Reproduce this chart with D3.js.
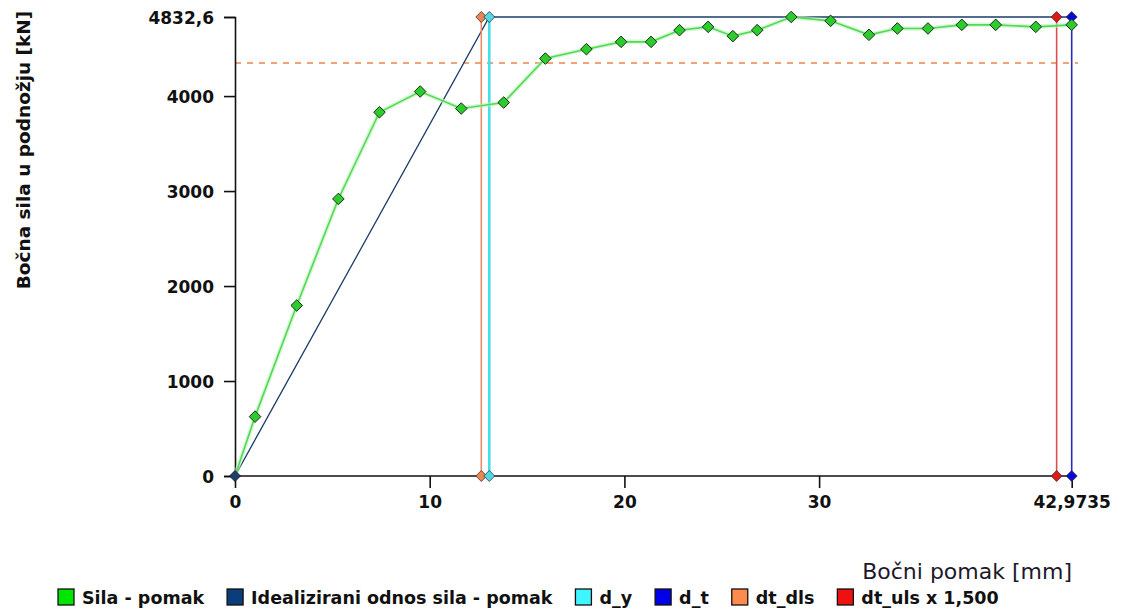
<!DOCTYPE html>
<html><head><meta charset="utf-8">
<script src="https://cdn.jsdelivr.net/npm/d3@7"></script>
<style>body{margin:0;background:#fff;}svg{display:block;}</style>
</head><body>
<svg id="c" width="1121" height="610"></svg>
<script>
// Data
const dispX = [0, 1.03, 3.17, 5.31, 7.42, 9.51, 11.62, 13.80, 15.94, 18.05, 19.83, 21.37, 22.83, 24.30, 25.57, 26.82, 28.57, 30.59, 32.56, 34.02, 35.59, 37.33, 39.07, 41.13, 42.97];
const forceY = [0, 625, 1795, 2917, 3830, 4048, 3869, 3932, 4395, 4494, 4571, 4571, 4694, 4729, 4631, 4694, 4832.6, 4792, 4645, 4712, 4712, 4750, 4750, 4729, 4750];
const idealX = [0, 13.06, 42.9735];
const idealY = [0, 4832.6, 4832.6];
const markerNames = ["dt_dls", "d_y", "dt_uls x 1,500", "d_t"];
const markerX = [12.65, 13.06, 42.2, 42.9735];
const dashedLevel = 4349;
const xTicks = [0, 10, 20, 30, 42.9735];
const yTicks = [0, 1000, 2000, 3000, 4000, 4832.6];
const legendNames = ["Sila - pomak", "Idealizirani odnos sila - pomak", "d_y", "d_t", "dt_dls", "dt_uls x 1,500"];
const xTitle = "Bočni pomak [mm]";
const yTitle = "Bočna sila u podnožju [kN]";

const col = {
  green: "#52da52", greenPt: "#2bcc2b", navy: "#1d3d6a",
  cyan: "#45dfec", blue: "#2a2ac0", orange: "#e98f68", red: "#d85050",
  dashed: "#e8874c"
};
const markerLine = [col.orange, col.cyan, col.red, col.blue];
const markerFill = ["#ec8552", "#4fd8e8", "#e01818", "#0a0ad8"];
const markerW = [1.6, 2.6, 1.6, 1.6];
const legendFill = ["#00e600", "#0b3d7a", "#3ff5ff", "#0000e6", "#ff8a4d", "#ee1111"];

const svg = d3.select("#c");
const x = d3.scaleLinear().domain([0, 42.9735]).range([235, 1071.7]);
const y = d3.scaleLinear().domain([0, 4832.6]).range([476, 17]);
const fmt = v => String(v).replace(".", ",");
const FONT = "'DejaVu Sans', Verdana, sans-serif";

// dashed level
svg.append("line").attr("x1", x(0)).attr("x2", x(43.3)).attr("y1", y(dashedLevel)).attr("y2", y(dashedLevel))
  .attr("stroke", col.dashed).attr("stroke-width", 1.5).attr("stroke-dasharray", "6,6");

// axes
const xAxis = d3.axisBottom(x).tickValues(xTicks).tickFormat(fmt).tickSize(12).tickPadding(8);
const yAxis = d3.axisLeft(y).tickValues(yTicks).tickFormat(fmt).tickSize(11).tickPadding(10);
const gx = svg.append("g").attr("transform", `translate(0,${y(0)})`).call(xAxis);
const gy = svg.append("g").attr("transform", `translate(${x(0)},0)`).call(yAxis);
[gx, gy].forEach(g => {
  g.select(".domain").attr("stroke", "#111").attr("stroke-width", 1.6);
  g.selectAll(".tick line").attr("stroke", "#111").attr("stroke-width", 1.6);
  g.selectAll(".tick text").attr("fill", "#111").style("font-family", FONT).style("font-weight", "bold").style("font-size", "17px");
});
gx.select(".domain").attr("d", `M${x(0)},0H${x(43.1)}`);
gy.selectAll(".tick text").attr("dy", "0.36em");

// idealized line
const line = d3.line().x(d => x(d[0])).y(d => y(d[1]));
svg.append("path").datum(d3.zip(idealX, idealY)).attr("d", line)
  .attr("fill", "none").attr("stroke", col.navy).attr("stroke-width", 1.3);

// vertical marker lines
markerX.forEach((mx, i) => {
  svg.append("line").attr("x1", x(mx)).attr("x2", x(mx)).attr("y1", y(0)).attr("y2", y(4832.6))
    .attr("stroke", markerLine[i]).attr("stroke-width", markerW[i]);
});

// green line with glow
const pts = d3.zip(dispX, forceY);
svg.append("path").datum(pts).attr("d", line).attr("fill", "none")
  .attr("stroke", "#bff2bf").attr("stroke-width", 4.5).attr("opacity", 0.6);
svg.append("path").datum(pts).attr("d", line).attr("fill", "none")
  .attr("stroke", col.green).attr("stroke-width", 1.6);

const diamond = (cx, cy, r) => `M${cx},${cy - r}L${cx + r},${cy}L${cx},${cy + r}L${cx - r},${cy}Z`;

// marker diamonds (verticals)
markerX.forEach((mx, i) => {
  [0, 4832.6].forEach(v => {
    svg.append("path").attr("d", diamond(x(mx), y(v), 5.5))
      .attr("fill", markerFill[i]).attr("stroke", "#333").attr("stroke-width", 0.8);
  });
});
// ideal origin diamond
svg.append("path").attr("d", diamond(x(idealX[0]), y(idealY[0]), 5.5))
  .attr("fill", col.navy).attr("stroke", "#111").attr("stroke-width", 0.8);

// green points
svg.selectAll(".gp").data(pts.slice(1)).join("path").attr("class", "gp")
  .attr("d", d => diamond(x(d[0]), y(d[1]), 5.8))
  .attr("fill", col.greenPt).attr("stroke", "#1b2b1b").attr("stroke-width", 1);

// titles
svg.append("text").attr("x", 1072).attr("y", 579).attr("text-anchor", "end")
  .style("font-family", FONT).style("font-size", "22px").attr("fill", "#1c1a2a").text(xTitle);
svg.append("text").attr("transform", "translate(30,150) rotate(-90)").attr("text-anchor", "middle")
  .style("font-family", FONT).style("font-weight", "bold").style("font-size", "18.5px").attr("fill", "#111").text(yTitle);

// legend (flowing layout)
const lg = svg.append("g");
let cx = 58;
legendNames.forEach((n, i) => {
  lg.append("rect").attr("x", cx).attr("y", 589).attr("width", 16).attr("height", 16)
    .attr("fill", legendFill[i]).attr("stroke", "#111").attr("stroke-width", 1.3);
  const t = lg.append("text").attr("x", cx + 24).attr("y", 604)
    .style("font-family", FONT).style("font-weight", "bold").style("font-size", "17.5px").attr("fill", "#111").text(n);
  cx = cx + 24 + t.node().getComputedTextLength() + 23;
});
</script>
</body></html>
